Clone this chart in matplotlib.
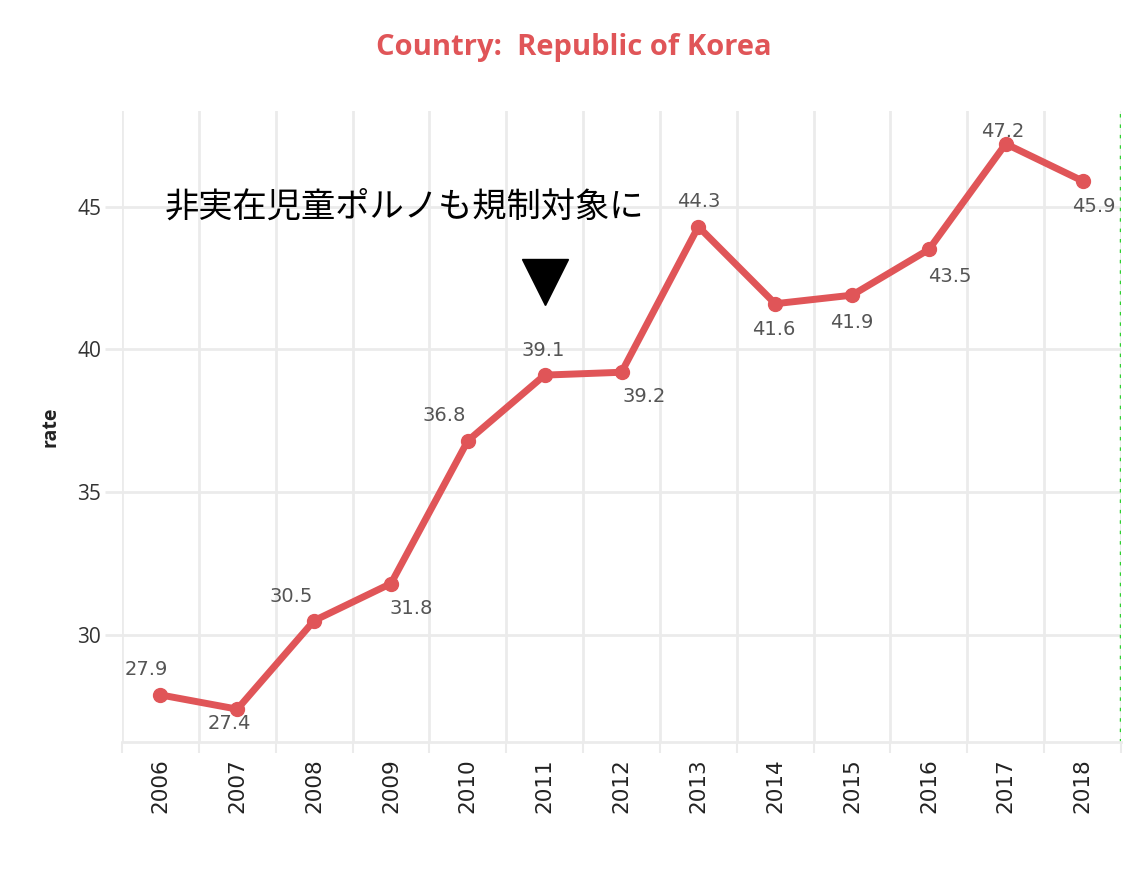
import numpy as np
import matplotlib
matplotlib.use("Agg")
import matplotlib.pyplot as plt

# data
years = ["2006", "2007", "2008", "2009", "2010", "2011", "2012",
         "2013", "2014", "2015", "2016", "2017", "2018"]
rate = [27.9, 27.4, 30.5, 31.8, 36.8, 39.1, 39.2,
        44.3, 41.6, 41.9, 43.5, 47.2, 45.9]
yticks = [30, 35, 40, 45]
title = "Country:  Republic of Korea"
note = "非実在児童ポルノも規制対象に"
note_year = "2011"

# label offsets (pixels) for each value label
label_dx = [-14, -8, -23, 20, -24, -1, 23, 0, -1, 0, 21, -3, 11]
label_dy = [25, -14, 24, -25, 25, 25, -24, 25, -26, -27, -27, 12, -26]

red = "#e05558"
grid_c = "#ebebeb"

fig = plt.figure(figsize=(11.48, 8.73), dpi=100)
ax = fig.add_axes([122 / 1148, 131 / 873, 999 / 1148, 631 / 873])

x = np.arange(len(years))
ax.plot(x, rate, color=red, lw=5, marker="o", ms=10, solid_capstyle="round",
        solid_joinstyle="round", zorder=3)

for xi, v, dx, dy in zip(x, rate, label_dx, label_dy):
    ax.annotate(f"{v}", (xi, v), xytext=(dx, dy), textcoords="offset pixels",
                ha="center", va="center", fontsize=14, color="#555555",
                family="DejaVu Sans")

ax.set_xlim(-0.5, len(years) - 0.5)
ax.set_ylim(26.25, 48.35)

ax.set_xticks(x)
ax.set_xticklabels(years, rotation=90, fontsize=15.5, color="#222222")
ax.set_xticks(np.arange(len(years) + 1) - 0.5, minor=True)
ax.tick_params(axis="x", which="major", length=0, pad=12)
ax.tick_params(axis="x", which="minor", length=8, color=grid_c, width=1.5)
ax.grid(axis="x", which="minor", color=grid_c, lw=2)

ax.set_yticks(yticks)
ax.set_yticklabels([str(t) for t in yticks], fontsize=15, color="#333333",
                   family="Open Sans")
ax.tick_params(axis="y", length=12, color=grid_c, width=2, pad=3)
ax.grid(axis="y", which="major", color=grid_c, lw=2)
ax.set_axisbelow(True)

for side in ["top", "left", "right"]:
    ax.spines[side].set_visible(False)
ax.spines["bottom"].set_color(grid_c)
ax.spines["bottom"].set_linewidth(2)

ax.axvline(len(years) - 0.5, color="#2fd12f", lw=2.5, ls=(0, (1, 2)))

ax.set_ylabel("rate", fontsize=14, fontweight="bold", color="#222222",
              family="Open Sans", labelpad=12)

fig.text(0.5, 1 - 48 / 873, title, ha="center", va="center", fontsize=21,
         fontweight="bold", color=red, family="Open Sans")

xi = years.index(note_year)
ax.text(xi - 1.82, 45.0, note, ha="center", va="center", fontsize=24.7,
        color="black", family=["Noto Sans CJK JP", "DejaVu Sans"])
ax.plot([xi], [42.35], marker="v", ms=33, color="black", zorder=4)

fig.savefig("out.png", dpi=100)
